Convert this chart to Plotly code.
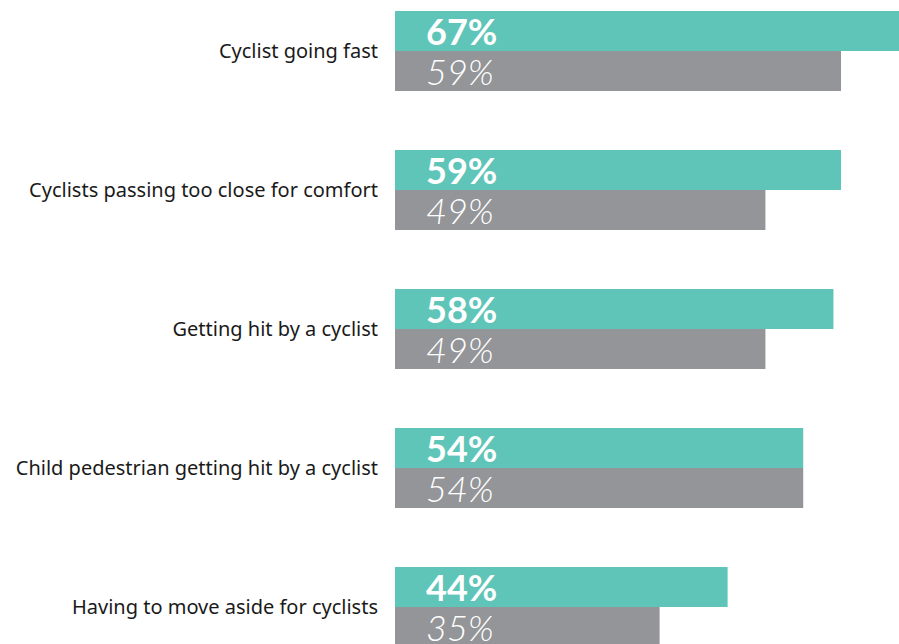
import plotly.graph_objects as go

categories = [
    "Cyclist going fast",
    "Cyclists passing too close for comfort",
    "Getting hit by a cyclist",
    "Child pedestrian getting hit by a cyclist",
    "Having to move aside for cyclists",
]
series_a = [67, 59, 58, 54, 44]
series_b = [59, 49, 49, 54, 35]

TEAL = "#60c5b9"
GRAY = "#939598"

fig = go.Figure()
fig.add_trace(go.Bar(y=categories, x=series_a, orientation="h", marker=dict(color=TEAL, line=dict(width=0)), showlegend=False, hoverinfo="skip"))
fig.add_trace(go.Bar(y=categories, x=series_b, orientation="h", marker=dict(color=GRAY, line=dict(width=0)), showlegend=False, hoverinfo="skip"))

annotations = []
for i, c in enumerate(categories):
    annotations.append(dict(x=0, y=c, xref="x", yref="y", text=f"{series_a[i]}%", showarrow=False,
                            xanchor="left", yanchor="middle", xshift=29, yshift=20,
                            font=dict(family="Lato", size=36, color="white", weight="bold")))
    annotations.append(dict(x=0, y=c, xref="x", yref="y", text=f"{series_b[i]}%", showarrow=False,
                            xanchor="left", yanchor="middle", xshift=29, yshift=-20,
                            font=dict(family="Lato", size=36, color="white", weight=300, style="italic")))

fig.update_layout(
    width=899, height=644,
    margin=dict(l=395, r=0, t=0, b=0),
    paper_bgcolor="white", plot_bgcolor="white",
    barmode="group", bargap=0.4245, bargroupgap=0,
    annotations=annotations,
    xaxis=dict(range=[0, 66.67], visible=False, showgrid=False, zeroline=False),
    yaxis=dict(range=[4.266, -0.367], showgrid=False, zeroline=False, showline=False, ticks="",
               ticklabelstandoff=16,
               tickfont=dict(family="Noto Sans", size=20, color="#1a1a1a")),
)

fig.write_html("out.html", config={"displayModeBar": False},
               post_script="document.body.style.margin='0';document.body.style.overflow='hidden';")
